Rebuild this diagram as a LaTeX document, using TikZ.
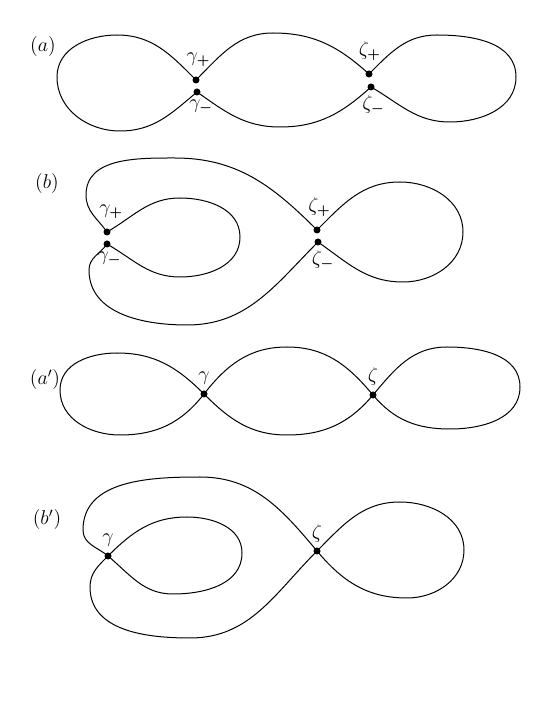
\documentclass[tikz,border=0pt]{standalone}
\usepackage{amsmath,amssymb}
\usetikzlibrary{positioning}

\begin{document}
\begin{tikzpicture}[x=0.6pt,y=0.6pt,line width=0.6pt,
  every node/.style={font=\large},
  vtx/.style={circle,fill,inner sep=0pt,minimum size=4.2pt}]
\useasboundingbox (0,0) rectangle (554,717);
% (a)
\node (la) at (43,670) {$(a)$};
\node[vtx] (gpa) at (196,637) {};
\node[vtx] (gma) at (197,625) {};
\node[vtx] (zpa) at (369,643) {};
\node[vtx] (zma) at (371,630) {};
\node[above=2pt of gpa,xshift=1.5pt] (tgpa) {$\gamma_{\boldsymbol{+}}$};
\node[below=-1pt of gma,xshift=2.5pt] (tgma) {$\gamma_{\boldsymbol{-}}$};
\node[above=2pt of zpa,xshift=0.5pt] (tzpa) {$\zeta_{\boldsymbol{+}}$};
\node[below=-1pt of zma,xshift=1.5pt] (tzma) {$\zeta_{\boldsymbol{-}}$};
\draw (gpa.center) to[out=135,in=0] (117,682) to[out=180,in=90] (57,640)
  to[out=-90,in=180] (120,586) to[out=0,in=-140] (gma.center);
\draw (gpa.center) to[out=45,in=180] (273,684) to[out=0,in=138] (zpa.center);
\draw (gma.center) to[out=-35,in=180] (280,590) to[out=0,in=-138] (zma.center);
\draw (zpa.center) to[out=45,in=180] (437,682) to[out=0,in=90] (516,640)
  to[out=-90,in=0] (450,595) to[out=180,in=-30] (zma.center);
% (b)
\node (lb) at (47,533) {$(b)$};
\node[vtx] (gpb) at (107,485) {};
\node[vtx] (gmb) at (107,473) {};
\node[vtx] (zpb) at (317,487) {};
\node[vtx] (zmb) at (318,475) {};
\node[above=2pt of gpb,xshift=2.5pt] (tgpb) {$\gamma_{\boldsymbol{+}}$};
\node[below=-1pt of gmb,xshift=1.5pt] (tgmb) {$\gamma_{\boldsymbol{-}}$};
\node[above=2pt of zpb,xshift=1.5pt] (tzpb) {$\zeta_{\boldsymbol{+}}$};
\node[below=-1pt of zmb,xshift=3pt] (tzmb) {$\zeta_{\boldsymbol{-}}$};
\draw (gpb.center) to[out=125,in=-90] (86,522) to[out=90,in=180] (175,559)
  to[out=0,in=135] (zpb.center);
\draw (gmb.center) to[out=-125,in=90] (89,447) to[out=-90,in=180] (187,392)
  to[out=0,in=-135] (zmb.center);
\draw (gpb.center) to[out=30,in=180] (180,519) to[out=0,in=90] (240,480)
  to[out=-90,in=0] (180,440) to[out=180,in=-30] (gmb.center);
\draw (zpb.center) to[out=45,in=180] (400,535) to[out=0,in=90] (463,485)
  to[out=-90,in=0] (403,435) to[out=180,in=-35] (zmb.center);
% (a')
\node (lap) at (45,337) {$(a')$};
\node[vtx] (ga) at (204,323) {};
\node[vtx] (za) at (373,322) {};
\node[above=0pt of ga] (tga) {$\gamma$};
\node[above=0pt of za] (tza) {$\zeta$};
\draw (ga.center) to[out=52,in=180] (287,370) to[out=0,in=130] (za.center)
  to[out=-50,in=180] (450,288) to[out=0,in=-90] (520,330)
  to[out=90,in=0] (447,370) to[out=180,in=50] (za.center)
  to[out=-130,in=0] (287,282) to[out=180,in=-45] (ga.center)
  to[out=135,in=0] (117,364) to[out=180,in=90] (60,327)
  to[out=-90,in=180] (120,282) to[out=0,in=-128] (ga.center) -- cycle;
% (b')
\node (lbp) at (47,197) {$(b')$};
\node[vtx] (gb) at (108,161) {};
\node[vtx] (zb) at (317,166) {};
\node[above=0pt of gb] (tgb) {$\gamma$};
\node[above=-1pt of zb] (tzb) {$\zeta$};
\draw (gb.center) to[out=45,in=180] (187,200) to[out=0,in=90] (242,164)
  to[out=-90,in=0] (173,123) to[out=180,in=-40] (gb.center)
  to[out=140,in=-90] (83,187) to[out=90,in=180] (200,240)
  to[out=0,in=130] (zb.center)
  to[out=-50,in=180] (407,119) to[out=0,in=-90] (464,167)
  to[out=90,in=0] (400,215) to[out=180,in=45] (zb.center)
  to[out=-135,in=0] (190,79) to[out=180,in=-90] (90,130)
  to[out=90,in=-135] (gb.center) -- cycle;
\end{tikzpicture}
\end{document}
